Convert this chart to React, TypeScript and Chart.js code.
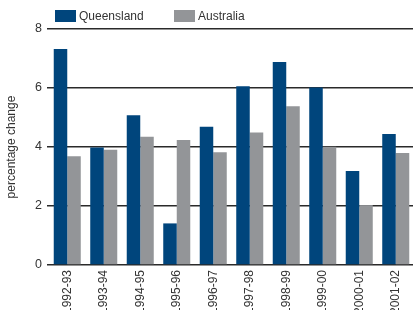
import React, { useEffect, useRef } from 'react';
import { Chart, registerables } from 'chart.js';

Chart.register(...registerables);

const categories = ['1992-93', '1993-94', '1994-95', '1995-96', '1996-97', '1997-98', '1998-99', '1999-00', '2000-01', '2001-02'];
const queensland = [7.32, 3.98, 5.08, 1.41, 4.69, 6.06, 6.88, 6.02, 3.19, 4.44];
const australia = [3.69, 3.91, 4.35, 4.24, 3.82, 4.49, 5.38, 4.01, 2.03, 3.8];
const yTicks = [0, 2, 4, 6, 8];

const FONT = "'Liberation Sans', Arial, sans-serif";
const TEXT = '#333333';

const legendPlugin = {
  id: 'customLegend',
  afterDraw(chart: any) {
    const ctx = chart.ctx;
    const items = [
      { x: 55, textX: 79 },
      { x: 174, textX: 198 },
    ];
    ctx.save();
    chart.data.datasets.forEach((ds: any, i: number) => {
      const it = items[i];
      ctx.fillStyle = ds.backgroundColor;
      ctx.fillRect(it.x, 10, 21, 12);
      ctx.fillStyle = TEXT;
      ctx.font = `12px ${FONT}`;
      ctx.textBaseline = 'middle';
      ctx.textAlign = 'left';
      ctx.fillText(ds.label, it.textX, 16.5);
    });
    ctx.restore();
  },
};

export default function App() {
  const ref = useRef<HTMLCanvasElement>(null);
  useEffect(() => {
    if (!ref.current) return;
    const chart = new Chart(ref.current, {
      type: 'bar',
      data: {
        labels: categories,
        datasets: [
          { label: 'Queensland', data: queensland, backgroundColor: '#00457c', categoryPercentage: 0.74, barPercentage: 1.0 },
          { label: 'Australia', data: australia, backgroundColor: '#939598', categoryPercentage: 0.74, barPercentage: 1.0 },
        ],
      },
      options: {
        responsive: false,
        animation: false,
        layout: { padding: { top: 29, left: 0, right: 0, bottom: 0 } },
        plugins: { legend: { display: false }, tooltip: { enabled: false } },
        scales: {
          x: {
            grid: { display: false },
            border: { display: false },
            ticks: {
              minRotation: 90,
              maxRotation: 90,
              autoSkip: false,
              padding: -3,
              color: TEXT,
              font: { family: FONT, size: 12 },
            },
            afterFit: (s: any) => { s.height = 55; },
          },
          y: {
            min: 0,
            max: 8,
            afterBuildTicks: (s: any) => { s.ticks = yTicks.map((v) => ({ value: v })); },
            grid: { color: '#2a2a2a', lineWidth: 1.5, drawTicks: true, tickLength: 2 },
            border: { display: false },
            ticks: { padding: 5, color: TEXT, font: { family: FONT, size: 12.5 } },
            title: {
              display: true,
              text: 'percentage change',
              color: TEXT,
              font: { family: FONT, size: 12 },
              padding: { top: 4, bottom: 0 },
            },
            afterFit: (s: any) => { s.width = 49; },
          },
        },
      },
      plugins: [legendPlugin],
    });
    return () => chart.destroy();
  }, []);
  return (
    <div style={{ position: 'fixed', left: 0, top: 0, width: 414, height: 320, background: '#fff' }}>
      <canvas ref={ref} width={414} height={320} />
    </div>
  );
}
